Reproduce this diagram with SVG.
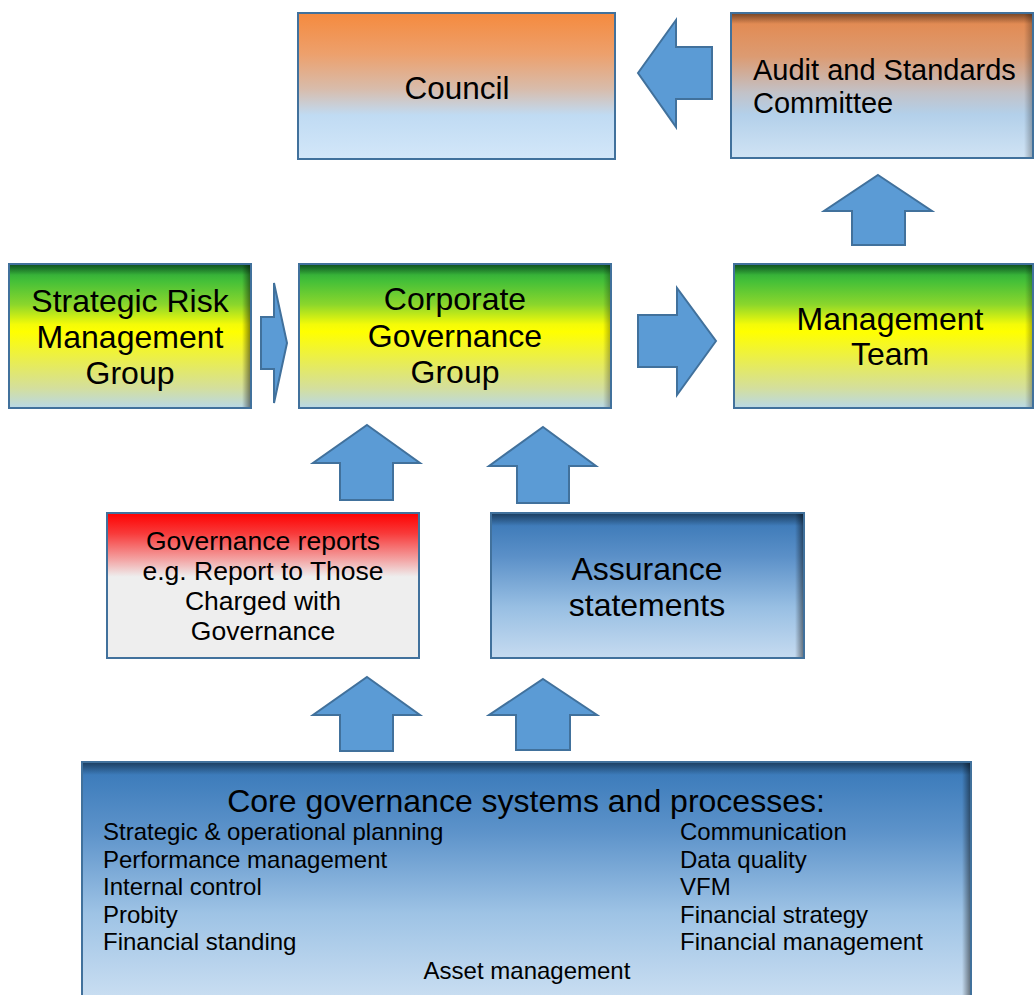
<svg xmlns="http://www.w3.org/2000/svg" width="1035" height="995" viewBox="0 0 1035 995">
  <style>
    .box { stroke: #41719c; stroke-width: 2; }
    .arrow { fill: #5b9bd5; stroke: #41719c; stroke-width: 2; stroke-linejoin: miter; }
    .lbl { font-family: "Liberation Sans", Arial, sans-serif; fill: #000; }
    .c { text-anchor: middle; }
  </style>
  <defs>
    <linearGradient id="gOrange" x1="0" y1="0" x2="0" y2="1">
      <stop offset="0" stop-color="#f58a3e"/>
      <stop offset="0.28" stop-color="#eda06c"/>
      <stop offset="0.52" stop-color="#d8bcab"/>
      <stop offset="0.7" stop-color="#c0dbf3"/>
      <stop offset="1" stop-color="#d3e7f9"/>
    </linearGradient>
    <linearGradient id="gAudit" x1="0" y1="0" x2="0" y2="1">
      <stop offset="0" stop-color="#e4864a"/>
      <stop offset="0.3" stop-color="#dc9b72"/>
      <stop offset="0.55" stop-color="#c2c2c8"/>
      <stop offset="0.7" stop-color="#b3d0ea"/>
      <stop offset="1" stop-color="#d0e3f4"/>
    </linearGradient>
    <linearGradient id="gGreen" x1="0" y1="0" x2="0" y2="1">
      <stop offset="0" stop-color="#1f9a3a"/>
      <stop offset="0.12" stop-color="#45c038"/>
      <stop offset="0.28" stop-color="#8ad62c"/>
      <stop offset="0.42" stop-color="#f4fb08"/>
      <stop offset="0.47" stop-color="#ffff00"/>
      <stop offset="0.7" stop-color="#e6eb5c"/>
      <stop offset="0.86" stop-color="#d4df9c"/>
      <stop offset="1" stop-color="#b9d8e6"/>
    </linearGradient>
    <linearGradient id="gRed" x1="0" y1="0" x2="0" y2="1">
      <stop offset="0" stop-color="#ff0000"/>
      <stop offset="0.14" stop-color="#f83a3a"/>
      <stop offset="0.32" stop-color="#f3a3a3"/>
      <stop offset="0.44" stop-color="#eeeeee"/>
      <stop offset="1" stop-color="#eeeeee"/>
    </linearGradient>
    <linearGradient id="gBlue" x1="0" y1="0" x2="0" y2="1">
      <stop offset="0" stop-color="#3574b4"/>
      <stop offset="0.3" stop-color="#5b90c8"/>
      <stop offset="0.65" stop-color="#98bfe3"/>
      <stop offset="1" stop-color="#c6dbf0"/>
    </linearGradient>
    <linearGradient id="gCore" x1="0" y1="762" x2="0" y2="995" gradientUnits="userSpaceOnUse">
      <stop offset="0" stop-color="#3677b8"/>
      <stop offset="0.3" stop-color="#5d93ca"/>
      <stop offset="0.65" stop-color="#9ec3e5"/>
      <stop offset="1" stop-color="#c8ddf1"/>
    </linearGradient>
    <!-- soft inner shading along top and right edges -->
    <linearGradient id="shTop" x1="0" y1="0" x2="0" y2="1">
      <stop offset="0" stop-color="#000" stop-opacity="0.45"/>
      <stop offset="1" stop-color="#000" stop-opacity="0"/>
    </linearGradient>
    <linearGradient id="shRight" x1="0" y1="0" x2="1" y2="0">
      <stop offset="0" stop-color="#000" stop-opacity="0"/>
      <stop offset="1" stop-color="#000" stop-opacity="0.45"/>
    </linearGradient>
  </defs>

  <rect width="1035" height="995" fill="#ffffff"/>

  <g id="council">
    <rect class="box" x="298" y="13" width="317" height="146" fill="url(#gOrange)"/>
    <text class="lbl c" x="457" y="99" font-size="31.5">Council</text>
  </g>

  <g id="audit-standards">
    <rect x="731" y="13" width="302" height="145" fill="url(#gAudit)"/>
    <rect x="732" y="14" width="300" height="10" fill="url(#shTop)"/>
    <rect x="1024" y="14" width="8" height="143" fill="url(#shRight)" opacity="0.6"/>
    <rect class="box" x="731" y="13" width="302" height="145" fill="none"/>
    <text class="lbl" x="753" y="80" font-size="29">Audit and Standards</text>
    <text class="lbl" x="753" y="113" font-size="29">Committee</text>
  </g>

  <g id="strategic-risk">
    <rect x="9" y="264" width="242" height="144" fill="url(#gGreen)"/>
    <rect x="10" y="265" width="240" height="10" fill="url(#shTop)"/>
    <rect x="242" y="265" width="8" height="142" fill="url(#shRight)"/>
    <rect class="box" x="9" y="264" width="242" height="144" fill="none"/>
    <text class="lbl c" x="130" y="312" font-size="32">Strategic Risk</text>
    <text class="lbl c" x="130" y="348" font-size="32">Management</text>
    <text class="lbl c" x="130" y="384" font-size="32">Group</text>
  </g>

  <g id="corporate-governance">
    <rect x="299" y="264" width="312" height="144" fill="url(#gGreen)"/>
    <rect x="300" y="265" width="310" height="10" fill="url(#shTop)"/>
    <rect x="603" y="265" width="7" height="142" fill="url(#shRight)" opacity="0.6"/>
    <rect class="box" x="299" y="264" width="312" height="144" fill="none"/>
    <text class="lbl c" x="455" y="310" font-size="32">Corporate</text>
    <text class="lbl c" x="455" y="347" font-size="32">Governance</text>
    <text class="lbl c" x="455" y="383" font-size="32">Group</text>
  </g>

  <g id="management-team">
    <rect x="734" y="264" width="299" height="144" fill="url(#gGreen)"/>
    <rect x="735" y="265" width="297" height="10" fill="url(#shTop)"/>
    <rect x="1025" y="265" width="7" height="142" fill="url(#shRight)" opacity="0.6"/>
    <rect class="box" x="734" y="264" width="299" height="144" fill="none"/>
    <text class="lbl c" x="890" y="330" font-size="32">Management</text>
    <text class="lbl c" x="890" y="365" font-size="32">Team</text>
  </g>

  <g id="governance-reports">
    <rect class="box" x="107" y="513" width="312" height="145" fill="url(#gRed)"/>
    <text class="lbl c" x="263" y="550" font-size="26.5">Governance reports</text>
    <text class="lbl c" x="263" y="580" font-size="26.5">e.g. Report to Those</text>
    <text class="lbl c" x="263" y="610" font-size="26.5">Charged with</text>
    <text class="lbl c" x="263" y="640" font-size="26.5">Governance</text>
  </g>

  <g id="assurance-statements">
    <rect x="491" y="513" width="313" height="145" fill="url(#gBlue)"/>
    <rect x="492" y="514" width="311" height="12" fill="url(#shTop)"/>
    <rect x="795" y="514" width="8" height="143" fill="url(#shRight)"/>
    <rect class="box" x="491" y="513" width="313" height="145" fill="none"/>
    <text class="lbl c" x="647" y="580" font-size="32">Assurance</text>
    <text class="lbl c" x="647" y="616" font-size="32">statements</text>
  </g>

  <g id="core-governance">
    <rect x="82" y="762" width="889" height="240" fill="url(#gCore)"/>
    <rect x="83" y="763" width="887" height="12" fill="url(#shTop)"/>
    <rect x="962" y="763" width="8" height="240" fill="url(#shRight)"/>
    <rect class="box" x="82" y="762" width="889" height="240" fill="none"/>
    <text class="lbl c" x="526" y="812" font-size="32">Core governance systems and processes:</text>
    <g font-size="24">
      <text class="lbl" x="103" y="840">Strategic &amp; operational planning</text>
      <text class="lbl" x="103" y="868">Performance management</text>
      <text class="lbl" x="103" y="895">Internal control</text>
      <text class="lbl" x="103" y="923">Probity</text>
      <text class="lbl" x="103" y="950">Financial standing</text>
      <text class="lbl" x="680" y="840">Communication</text>
      <text class="lbl" x="680" y="868">Data quality</text>
      <text class="lbl" x="680" y="895">VFM</text>
      <text class="lbl" x="680" y="923">Financial strategy</text>
      <text class="lbl" x="680" y="950">Financial management</text>
      <text class="lbl c" x="527" y="979">Asset management</text>
    </g>
  </g>

  <g id="connectors">
    <!-- audit -> council (left) -->
    <polygon class="arrow" points="638,73 676,20 676,47 712,47 712,99 676,99 676,127"/>
    <!-- management team -> audit (up) -->
    <polygon class="arrow" points="878,175 932,211 905,211 905,245 852,245 852,211 824,211"/>
    <!-- strategic risk -> corporate governance (right) -->
    <polygon class="arrow" points="287,343 274,403 274,369 261,369 261,317 274,317 274,283"/>
    <!-- corporate governance -> management team (right) -->
    <polygon class="arrow" points="716,341 677,395 677,367 638,367 638,315 677,315 677,288"/>
    <!-- governance reports -> corporate governance (up) -->
    <polygon class="arrow" points="367,425 420,463 393,463 393,500 340,500 340,463 313,463"/>
    <!-- assurance statements -> corporate governance (up) -->
    <polygon class="arrow" points="543,427 596,466 569,466 569,503 517,503 517,466 489,466"/>
    <!-- core processes -> governance reports (up) -->
    <polygon class="arrow" points="367,677 420,715 393,715 393,751 340,751 340,715 313,715"/>
    <!-- core processes -> assurance statements (up) -->
    <polygon class="arrow" points="543,679 597,715 570,715 570,750 516,750 516,715 489,715"/>
  </g>
</svg>
